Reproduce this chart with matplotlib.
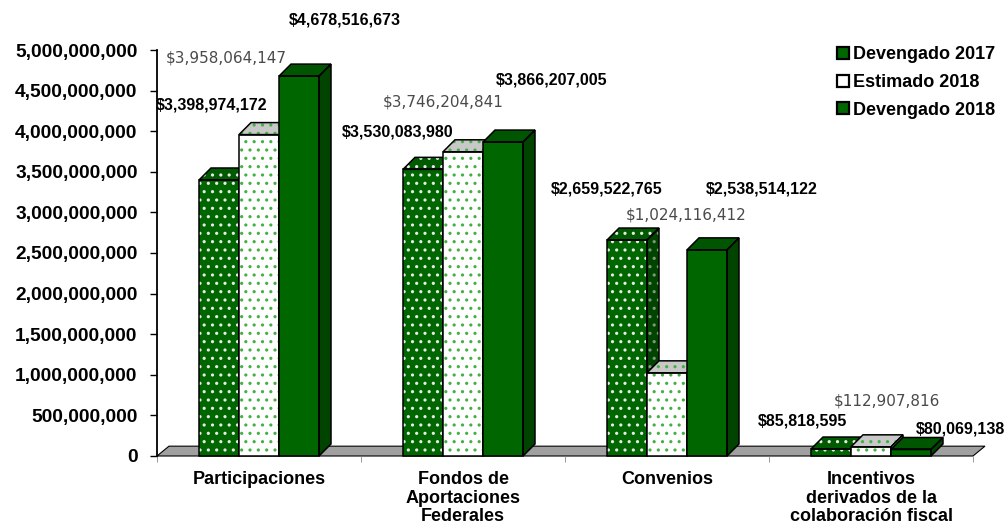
import matplotlib.pyplot as plt
from matplotlib.patches import Polygon
from matplotlib.lines import Line2D
from matplotlib.ticker import FuncFormatter

plt.rcParams['hatch.linewidth'] = 1.1

categorias = ['Participaciones', 'Fondos de\nAportaciones\nFederales', 'Convenios',
              'Incentivos\nderivados de la\ncolaboración fiscal']
devengado_2017 = [3398974172, 3530083980, 2659522765, 85818595]
estimado_2018 = [3958064147, 3746204841, 1024116412, 112907816]
devengado_2018 = [4678516673, 3866207005, 2538514122, 80069138]
series_nombres = ['Devengado 2017', 'Estimado 2018', 'Devengado 2018']

# desplazamiento de las etiquetas (pixeles) respecto al centro superior de cada barra
offs_2017 = [(-7, 75), (-25, 37), (-20, 51), (-28, 28)]
offs_est = [(-33, 77), (-20, 50), (19, 158), (16, 46)]
offs_2018 = [(46, 56), (49, 62), (55, 61), (49, 20)]

W, H = 1008, 531
fig = plt.figure(figsize=(W / 100, H / 100), dpi=100)
ax = fig.add_axes([157 / W, (H - 456) / H, 816 / W, 406 / H])
ax.set_xlim(-0.5, 3.5)
ax.set_ylim(0, 5e9)

px_x = 1 / 204.0          # unidades de datos por pixel (x)
px_y = 5e9 / 406.0        # unidades de datos por pixel (y)
dx, dy = 12 * px_x, 12 * px_y
ancho = 40 * px_x

verde = '#006600'
verde_osc = '#004400'
verde_claro = '#44b044'

def caja(x0, v, front, top, side, hatch_col, side_hatch_col, hatch, z):
    x1 = x0 + ancho
    caras = [
        ([(x1, 0), (x1 + dx, dy), (x1 + dx, v + dy), (x1, v)], side, side_hatch_col),
        ([(x0, v), (x1, v), (x1 + dx, v + dy), (x0 + dx, v + dy)], top, hatch_col),
        ([(x0, 0), (x1, 0), (x1, v), (x0, v)], front, hatch_col),
    ]
    for pts, fc, hc in caras:
        h = hatch if hc else None
        ax.add_patch(Polygon(pts, closed=True, facecolor=fc, edgecolor=hc if h else fc,
                             hatch=h, lw=0, zorder=z, clip_on=False))
        ax.add_patch(Polygon(pts, closed=True, fill=False, edgecolor='black', lw=1.1,
                             zorder=z + 0.1, clip_on=False))

# piso
piso = [(-0.5, 0), (3.5, 0), (3.5 + dx, 0.82 * dy), (-0.5 + dx, 0.82 * dy)]
ax.add_patch(Polygon(piso, closed=True, facecolor='#a0a0a0', edgecolor='black', lw=0.8,
                     zorder=1, clip_on=False))

estilos = [
    (devengado_2017, verde, '#005a00', verde_osc, '#e8e8e8', '#7a9a7a', '..', offs_2017),
    (estimado_2018, 'white', '#c8c8c8', '#bbbbbb', verde_claro, verde_claro, '..', offs_est),
    (devengado_2018, verde, '#005500', verde_osc, None, None, None, offs_2018),
]

for i in range(len(categorias)):
    for j, (vals, fc, tc, sc, hc, shc, hatch, offs) in enumerate(estilos):
        xc = i + (j - 1) * ancho
        caja(xc - ancho / 2, vals[i], fc, tc, sc, hc, shc, hatch, 2 + i * 3 + j)
        if j == 1:
            ax.annotate(f'${vals[i]:,.0f}', xy=(xc, vals[i]), xytext=offs[i],
                        textcoords='offset pixels', ha='center', va='center',
                        fontsize=11, color='#4a4a4a', family='DejaVu Sans',
                        annotation_clip=False, zorder=50)
        else:
            ax.annotate(f'${vals[i]:,.0f}', xy=(xc, vals[i]), xytext=offs[i],
                        textcoords='offset pixels', ha='center', va='center',
                        fontsize=11.5, fontweight='bold', color='black',
                        family='Liberation Sans', annotation_clip=False, zorder=50)

for s in ['top', 'right', 'bottom']:
    ax.spines[s].set_visible(False)
ax.spines['left'].set_linewidth(1.3)

ax.set_yticks(range(0, 5000000001, 500000000))
ax.yaxis.set_major_formatter(FuncFormatter(lambda v, p: f'{v:,.0f}'))
ax.tick_params(axis='y', direction='out', length=5, width=1, pad=9)
for t in ax.get_yticklabels():
    t.set_fontsize(13.8)
    t.set_fontweight('bold')
    t.set_family('Liberation Sans')

ax.set_xticks(range(len(categorias)))
ax.set_xticklabels(categorias, fontsize=13, fontweight='bold', family='Liberation Sans',
                   linespacing=1.12)
ax.set_xticks([-0.5, 0.5, 1.5, 2.5, 3.5], minor=True)
ax.tick_params(axis='x', which='major', length=0, pad=11)
ax.tick_params(axis='x', which='minor', length=4, color='#888888', direction='out')

handles = [
    Line2D([], [], ls='', marker='s', markersize=9, markerfacecolor=verde,
           markeredgecolor='black', markeredgewidth=1.6),
    Line2D([], [], ls='', marker='s', markersize=9, markerfacecolor='white',
           markeredgecolor='black', markeredgewidth=1.6),
    Line2D([], [], ls='', marker='s', markersize=9, markerfacecolor=verde,
           markeredgecolor='black', markeredgewidth=1.6),
]
fig.legend(handles, series_nombres, loc='upper left', bbox_to_anchor=(828 / W, 1 - 37 / H),
           frameon=False, handlelength=0.7, handletextpad=0.2, borderpad=0, labelspacing=0.6,
           prop={'family': 'Liberation Sans', 'weight': 'bold', 'size': 13})

fig.savefig('out.png', dpi=100)
